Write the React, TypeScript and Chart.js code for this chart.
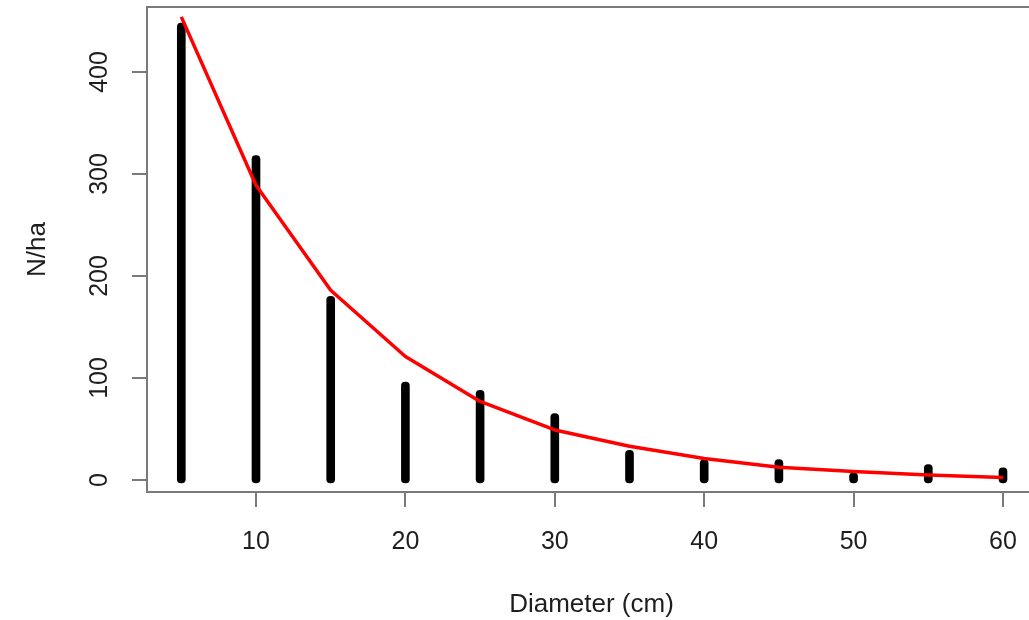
import { useEffect, useRef } from "react";
import { Chart, registerables } from "chart.js";

Chart.register(...registerables);

// Diameter classes (cm)
const diameters = [5, 10, 15, 20, 25, 30, 35, 40, 45, 50, 55, 60];
// Observed stems per hectare (vertical bars)
const observed = [448, 318, 180, 96, 88, 65, 29, 20, 20, 7, 15, 12];
// Fitted curve (red line)
const fitted = [454, 289, 186, 121, 77, 49, 33, 21, 12.5, 8.2, 4.9, 2.5];
// Axis ticks
const xTicks = [10, 20, 30, 40, 50, 60];
const yTicks = [0, 100, 200, 300, 400];
const xTitle = "Diameter (cm)";
const yTitle = "N/ha";

const FONT = "'Liberation Sans', Arial, Helvetica, sans-serif";
const AXIS_GRAY = "#7a7a7a";
const TEXT = "#1e1e1e";

const framePlugin = {
  id: "frame",
  afterDatasetsDraw(chart: any) {
    const { ctx, chartArea: a } = chart;
    ctx.save();
    ctx.strokeStyle = AXIS_GRAY;
    ctx.lineWidth = 2;
    ctx.strokeRect(a.left, a.top, a.right - a.left, a.bottom - a.top);
    ctx.restore();
  },
};

export default function App() {
  const canvasRef = useRef<HTMLCanvasElement | null>(null);

  useEffect(() => {
    const canvas = canvasRef.current;
    if (!canvas) return;
    const chart = new Chart(canvas, {
      type: "bar",
      data: {
        datasets: [
          {
            type: "line",
            label: "fitted",
            data: diameters.map((d, i) => ({ x: d, y: fitted[i] })),
            borderColor: "#ff0000",
            backgroundColor: "#ff0000",
            borderWidth: 3.5,
            pointRadius: 0,
            tension: 0,
            borderJoinStyle: "round",
            fill: false,
            order: 0,
          } as any,
          {
            type: "bar",
            label: "observed",
            data: diameters.map((d, i) => ({ x: d, y: observed[i] })),
            backgroundColor: "#000000",
            barThickness: 8,
            borderRadius: 4,
            borderSkipped: false,
            base: -3,
            order: 1,
          } as any,
        ],
      },
      options: {
        animation: false,
        responsive: false,
        maintainAspectRatio: false,
        layout: { padding: { top: 7, right: 4, left: 0, bottom: 0 } },
        plugins: {
          legend: { display: false },
          tooltip: { enabled: false },
        },
        scales: {
          x: {
            type: "linear",
            min: 2.704,
            max: 62.21,
            offset: false,
            afterBuildTicks: (scale: any) => {
              scale.ticks = xTicks.map((v) => ({ value: v }));
            },
            afterFit: (scale: any) => {
              scale.height = 128;
              scale.paddingLeft = 0;
              scale.paddingRight = 0;
            },
            border: { display: false },
            grid: {
              offset: false,
              drawOnChartArea: false,
              drawTicks: true,
              tickLength: 15,
              color: AXIS_GRAY,
              lineWidth: 2,
            },
            ticks: {
              font: { family: FONT, size: 25 },
              color: TEXT,
              padding: 20,
              maxRotation: 0,
              minRotation: 0,
            },
            title: {
              display: true,
              text: xTitle,
              font: { family: FONT, size: 26 },
              color: TEXT,
              padding: { top: 0, bottom: 0 },
            },
          },
          y: {
            type: "linear",
            min: -11.8,
            max: 463.7,
            afterBuildTicks: (scale: any) => {
              scale.ticks = yTicks.map((v) => ({ value: v }));
            },
            afterFit: (scale: any) => {
              scale.width = 147;
              scale.paddingTop = 0;
              scale.paddingBottom = 0;
            },
            border: { display: false },
            grid: {
              drawOnChartArea: false,
              drawTicks: true,
              tickLength: 15,
              color: AXIS_GRAY,
              lineWidth: 2,
            },
            ticks: {
              font: { family: FONT, size: 25 },
              color: TEXT,
              padding: 11,
              minRotation: 90,
              maxRotation: 90,
              crossAlign: "center",
            },
            title: {
              display: true,
              text: yTitle,
              font: { family: FONT, size: 26 },
              color: TEXT,
              padding: { top: 22, bottom: 0 },
            },
          },
        },
      } as any,
      plugins: [framePlugin],
    });
    return () => chart.destroy();
  }, []);

  return (
    <div
      style={{
        position: "fixed",
        left: 0,
        top: 0,
        width: 1029,
        height: 620,
        overflow: "hidden",
        background: "#ffffff",
      }}
    >
      <canvas
        ref={canvasRef}
        width={1040}
        height={620}
        style={{ display: "block", width: 1040, height: 620 }}
      />
    </div>
  );
}
